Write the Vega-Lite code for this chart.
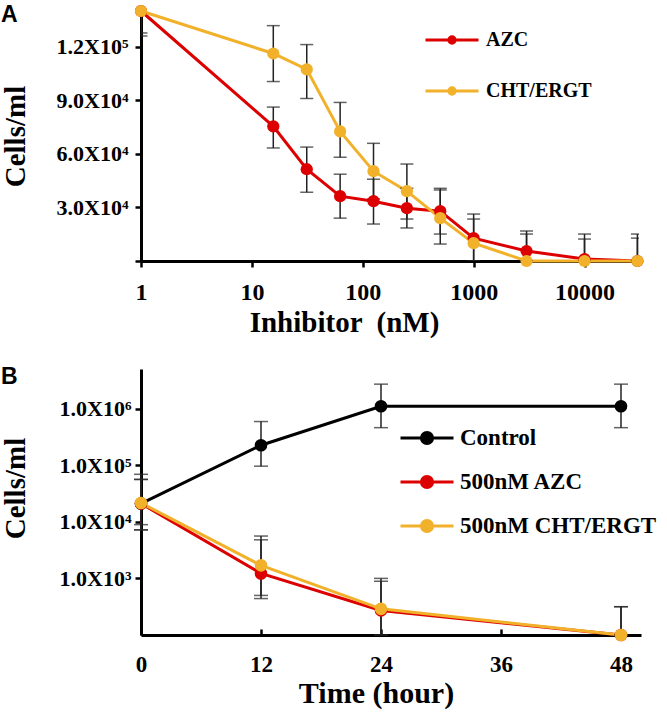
{
  "$schema": "https://vega.github.io/schema/vega-lite/v6.json",
  "padding": {"left": 1, "top": 3, "right": 5, "bottom": 2},
  "config": {
    "view": {"stroke": null},
    "font": "Liberation Serif",
    "axis": {
      "grid": false,
      "domainColor": "black",
      "domainWidth": 3,
      "tickColor": "black",
      "tickWidth": 2.5,
      "labelFont": "Liberation Serif",
      "labelFontWeight": "bold",
      "labelColor": "black",
      "titleFont": "Liberation Serif",
      "titleFontWeight": "bold",
      "titleColor": "black",
      "labelFlush": false,
      "labelOverlap": false
    },
    "legend": {
      "labelFont": "Liberation Serif",
      "labelFontWeight": "bold",
      "labelColor": "black",
      "labelLimit": 400
    }
  },
  "resolve": {"scale": {"color": "independent"}, "legend": {"color": "independent"}},
  "datasets": {
    "panelA": [
      {"series": "AZC", "conc": 1, "cells": 140000, "lo": 127700, "hi": 152300},
      {"series": "AZC", "conc": 15.6, "cells": 75400, "lo": 63300, "hi": 86200},
      {"series": "AZC", "conc": 31.25, "cells": 51400, "lo": 38500, "hi": 63800},
      {"series": "AZC", "conc": 62.5, "cells": 36300, "lo": 24000, "hi": 48600},
      {"series": "AZC", "conc": 125, "cells": 33500, "lo": 20700, "hi": 45800},
      {"series": "AZC", "conc": 250, "cells": 29600, "lo": 18500, "hi": 40700},
      {"series": "AZC", "conc": 500, "cells": 27900, "lo": 15100, "hi": 40700},
      {"series": "AZC", "conc": 1000, "cells": 12800, "lo": 0, "hi": 26300},
      {"series": "AZC", "conc": 3000, "cells": 5600, "lo": 0, "hi": 16800},
      {"series": "AZC", "conc": 10000, "cells": 1100, "lo": 0, "hi": 15100},
      {"series": "AZC", "conc": 30000, "cells": 0, "lo": 0, "hi": 15100},
      {"series": "CHT/ERGT", "conc": 1, "cells": 140000, "lo": 126000, "hi": 154000},
      {"series": "CHT/ERGT", "conc": 15.6, "cells": 116200, "lo": 100500, "hi": 131800},
      {"series": "CHT/ERGT", "conc": 31.25, "cells": 107300, "lo": 91000, "hi": 121200},
      {"series": "CHT/ERGT", "conc": 62.5, "cells": 72600, "lo": 58100, "hi": 88800},
      {"series": "CHT/ERGT", "conc": 125, "cells": 50300, "lo": 34700, "hi": 65900},
      {"series": "CHT/ERGT", "conc": 250, "cells": 39100, "lo": 23500, "hi": 54300},
      {"series": "CHT/ERGT", "conc": 500, "cells": 24000, "lo": 9500, "hi": 39800},
      {"series": "CHT/ERGT", "conc": 1000, "cells": 10000, "lo": 0, "hi": 23500},
      {"series": "CHT/ERGT", "conc": 3000, "cells": 0, "lo": 0, "hi": 15100},
      {"series": "CHT/ERGT", "conc": 10000, "cells": 0, "lo": 0, "hi": 12300},
      {"series": "CHT/ERGT", "conc": 30000, "cells": 0, "lo": 0, "hi": 12800}
    ],
    "panelB": [
      {"series": "Control", "time": 0, "cells": 21000, "lo": 8900, "hi": 69000},
      {"series": "Control", "time": 12, "cells": 225000, "lo": 96000, "hi": 590000},
      {"series": "Control", "time": 24, "cells": 1100000, "lo": 460000, "hi": 2700000},
      {"series": "Control", "time": 48, "cells": 1100000, "lo": 460000, "hi": 2700000},
      {"series": "500nM AZC", "time": 0, "cells": 21000, "lo": 7200, "hi": 56000},
      {"series": "500nM AZC", "time": 12, "cells": 1225, "lo": 440, "hi": 4800},
      {"series": "500nM AZC", "time": 24, "cells": 272, "lo": 100, "hi": 890},
      {"series": "500nM AZC", "time": 48, "cells": 100, "lo": 100, "hi": 316},
      {"series": "500nM CHT/ERGT", "time": 0, "cells": 21500, "lo": 7200, "hi": 56000},
      {"series": "500nM CHT/ERGT", "time": 12, "cells": 1700, "lo": 500, "hi": 5600},
      {"series": "500nM CHT/ERGT", "time": 24, "cells": 290, "lo": 100, "hi": 1000},
      {"series": "500nM CHT/ERGT", "time": 48, "cells": 100, "lo": 100, "hi": 316}
    ]
  },
  "concat": [
    {
      "width": 498,
      "height": 250,
      "title": {"text": "A", "anchor": "start", "frame": "bounds", "font": "Liberation Sans", "fontSize": 23, "fontWeight": "bold", "color": "black", "offset": -22, "dx": 0},
      "data": {"name": "panelA"},
      "encoding": {
        "x": {
          "field": "conc", "type": "quantitative",
          "scale": {"type": "log", "domain": [1, 31000], "nice": false},
          "axis": {
            "values": [1, 10, 100, 1000, 10000],
            "labelExpr": "datum.value",
            "labelFontSize": 24,
            "tickSize": 6,
            "labelPadding": 13,
            "title": "Inhibitor \u00a0(nM)",
            "titleFontSize": 29,
            "titleX": 203,
            "titleY": 47
          }
        }
      },
      "layer": [
        {
          "mark": {"type": "line", "strokeWidth": 3},
          "encoding": {
            "y": {
              "field": "cells", "type": "quantitative",
              "scale": {"domain": [0, 140000], "nice": false, "zero": true},
              "axis": {
                "values": [0, 30000, 60000, 90000, 120000],
                "labelExpr": "datum.value == 120000 ? '1.2X10\u2075' : datum.value == 90000 ? '9.0X10\u2074' : datum.value == 60000 ? '6.0X10\u2074' : datum.value == 30000 ? '3.0X10\u2074' : ''",
                "labelFontSize": 22,
                "tickSize": 6,
                "labelPadding": 7,
                "title": "Cells/ml",
                "titleFontSize": 29,
                "titleX": -111,
                "titleY": 125
              }
            },
            "color": {
              "field": "series", "type": "nominal",
              "scale": {"domain": ["AZC", "CHT/ERGT"], "range": ["#dc0000", "#f2b12b"]},
              "legend": {
                "title": null,
                "orient": "none",
                "legendX": 283,
                "legendY": 1,
                "symbolType": "M-1,0H1M0.12,0A0.12,0.12 0 1 1 -0.12,0A0.12,0.12 0 1 1 0.12,0Z",
                "symbolSize": 2809,
                "symbolStrokeWidth": 3,
                "labelFontSize": 20,
                "labelOffset": 6,
                "rowPadding": 13,
                "encode": {
                  "symbols": {
                    "update": {
                      "fill": {"signal": "datum.value == 'AZC' ? '#dc0000' : '#f2b12b'"},
                      "stroke": {"signal": "datum.value == 'AZC' ? '#dc0000' : '#f2b12b'"}
                    }
                  }
                }
              }
            }
          }
        },
        {
          "mark": {"type": "rule", "color": "#222222", "strokeWidth": 1.5, "clip": true},
          "encoding": {
            "y": {"field": "lo", "type": "quantitative"},
            "y2": {"field": "hi"}
          }
        },
        {
          "mark": {"type": "tick", "orient": "horizontal", "size": 13, "thickness": 1.5, "color": "#222222", "clip": true},
          "encoding": {"y": {"field": "lo", "type": "quantitative"}}
        },
        {
          "mark": {"type": "tick", "orient": "horizontal", "size": 13, "thickness": 1.5, "color": "#222222", "clip": true},
          "encoding": {"y": {"field": "hi", "type": "quantitative"}}
        },
        {
          "mark": {"type": "point", "filled": true, "size": 150, "opacity": 1},
          "encoding": {
            "y": {"field": "cells", "type": "quantitative"},
            "color": {"field": "series", "type": "nominal"}
          }
        }
      ]
    },
    {
      "width": 500,
      "height": 266,
      "title": {"text": "B", "anchor": "start", "frame": "bounds", "font": "Liberation Sans", "fontSize": 23, "fontWeight": "bold", "color": "black", "offset": -20, "dx": 0},
      "data": {"name": "panelB"},
      "encoding": {
        "x": {
          "field": "time", "type": "quantitative",
          "scale": {"domain": [0, 50], "nice": false},
          "axis": {
            "values": [0, 12, 24, 36, 48],
            "labelFontSize": 23,
            "tickSize": -6,
            "labelPadding": 24,
            "title": "Time (hour)",
            "titleFontSize": 30,
            "titleX": 235,
            "titleY": 43
          }
        }
      },
      "layer": [
        {
          "mark": {"type": "line", "strokeWidth": 3},
          "encoding": {
            "y": {
              "field": "cells", "type": "quantitative",
              "scale": {"type": "log", "domain": [100, 5000000], "nice": false},
              "axis": {
                "values": [1000, 10000, 100000, 1000000],
                "labelExpr": "datum.value == 1000000 ? '1.0X10\u2076' : datum.value == 100000 ? '1.0X10\u2075' : datum.value == 10000 ? '1.0X10\u2074' : '1.0X10\u00b3'",
                "labelFontSize": 22,
                "tickSize": 6,
                "labelPadding": 4,
                "title": "Cells/ml",
                "titleFontSize": 29,
                "titleX": -111,
                "titleY": 119
              }
            },
            "color": {
              "field": "series", "type": "nominal",
              "scale": {"domain": ["Control", "500nM AZC", "500nM CHT/ERGT"], "range": ["#000000", "#dc0000", "#f2b12b"]},
              "legend": {
                "title": null,
                "orient": "none",
                "legendX": 258,
                "legendY": 41,
                "symbolType": "M-1,0H1M0.21,0A0.21,0.21 0 1 1 -0.21,0A0.21,0.21 0 1 1 0.21,0Z",
                "symbolSize": 2809,
                "symbolStrokeWidth": 3,
                "labelFontSize": 23,
                "labelOffset": 5,
                "rowPadding": 4,
                "encode": {
                  "symbols": {
                    "update": {
                      "fill": {"signal": "datum.value == 'Control' ? '#000000' : datum.value == '500nM AZC' ? '#dc0000' : '#f2b12b'"},
                      "stroke": {"signal": "datum.value == 'Control' ? '#000000' : datum.value == '500nM AZC' ? '#dc0000' : '#f2b12b'"}
                    }
                  }
                }
              }
            }
          }
        },
        {
          "mark": {"type": "rule", "color": "#222222", "strokeWidth": 1.5},
          "encoding": {
            "y": {"field": "lo", "type": "quantitative"},
            "y2": {"field": "hi"}
          }
        },
        {
          "mark": {"type": "tick", "orient": "horizontal", "size": 14, "thickness": 1.5, "color": "#222222"},
          "encoding": {"y": {"field": "lo", "type": "quantitative"}}
        },
        {
          "mark": {"type": "tick", "orient": "horizontal", "size": 14, "thickness": 1.5, "color": "#222222"},
          "encoding": {"y": {"field": "hi", "type": "quantitative"}}
        },
        {
          "mark": {"type": "point", "filled": true, "size": 160, "opacity": 1},
          "encoding": {
            "y": {"field": "cells", "type": "quantitative"},
            "color": {"field": "series", "type": "nominal"}
          }
        }
      ]
    }
  ],
  "columns": 1,
  "align": "none",
  "spacing": 29
}
